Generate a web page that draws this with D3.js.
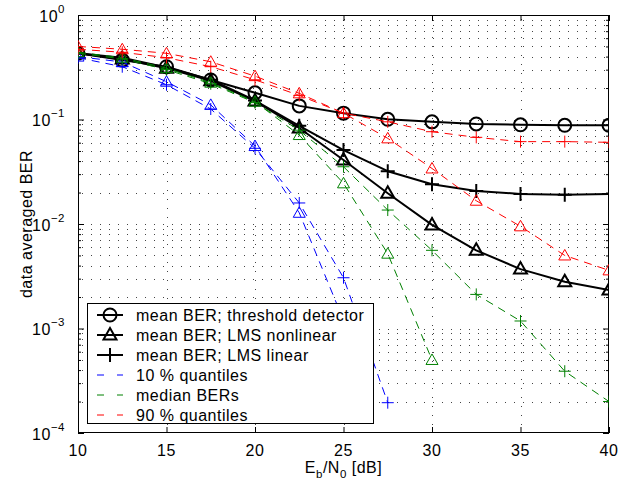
<!DOCTYPE html>
<html><head><meta charset="utf-8">
<script src="https://cdn.jsdelivr.net/npm/d3@7"></script>
<style>
body{margin:0;background:#fff}
svg{display:block;font-family:"Liberation Sans",Arial,Helvetica,sans-serif}
</style>
</head><body>
<svg id="chart" width="639" height="482"></svg>
<script>
// ---------------- data ----------------
const ebno = [10, 12.5, 15, 17.5, 20, 22.5, 25, 27.5, 30, 32.5, 35, 37.5, 40];
const meanThreshold    = [0.43, 0.37, 0.32, 0.239, 0.18, 0.135, 0.115, 0.1005, 0.095, 0.0906, 0.089, 0.088, 0.088];
const meanLmsNonlinear = [0.43, 0.38, 0.31, 0.235, 0.15, 0.083, 0.041, 0.0197, 0.0098, 0.0056, 0.0037, 0.0028, 0.00233];
const meanLmsLinear    = [0.43, 0.39, 0.315, 0.24, 0.152, 0.087, 0.051, 0.032, 0.024, 0.0207, 0.0194, 0.019, 0.0194];
const q10Nonlinear     = [0.40, 0.355, 0.23, 0.138, 0.0557, 0.0128, 0.0012, null, null, null, null, null, null];
const q10Linear        = [0.39, 0.32, 0.215, 0.126, 0.053, 0.0159, 0.00306, 0.000195, null, null, null, null, null];
const medNonlinear     = [0.44, 0.39, 0.31, 0.225, 0.148, 0.071, 0.0245, 0.0052, 0.0005, null, null, null, null];
const medLinear        = [0.43, 0.38, 0.30, 0.22, 0.145, 0.079, 0.0353, 0.0136, 0.0056, 0.00212, 0.00118, 0.00039, 0.0002];
const q90Nonlinear     = [0.50, 0.47, 0.43, 0.357, 0.26, 0.178, 0.115, 0.066, 0.034, 0.0167, 0.0095, 0.0050, 0.0036];
const q90Linear        = [0.47, 0.44, 0.39, 0.32, 0.24, 0.17, 0.115, 0.095, 0.0764, 0.0675, 0.0614, 0.0614, 0.0605];

const xTickValues = [10, 15, 20, 25, 30, 35, 40];
const yDecadeExps = [0, -1, -2, -3, -4];
const legendLabels = ["mean BER; threshold detector", "mean BER; LMS nonlinear", "mean BER; LMS linear",
                      "10 % quantiles", "median BERs", "90 % quantiles"];

// ---------------- layout ----------------
const L = 78, R = 609, T = 15, B = 433;
const svg = d3.select("#chart");
const x = d3.scaleLinear().domain([10, 40]).range([L, R]);
const y = d3.scaleLog().domain([1e-4, 1]).range([B, T]);

const FS = 16, LS = 0.5;
const BLUE = "#0000ff", GREEN = "#008000", RED = "#ff0000";

svg.append("defs").append("clipPath").attr("id", "clip")
  .append("rect").attr("x", L).attr("y", T).attr("width", R - L).attr("height", B - T);

const yMinor = [];
for (let e = -4; e < 0; e++) for (let m = 2; m <= 9; m++) yMinor.push(m * Math.pow(10, e));
const yMajor = yDecadeExps.map(e => Math.pow(10, e));

// ---------------- grid ----------------
const grid = svg.append("g").attr("stroke", "#444").attr("stroke-width", 1).attr("stroke-dasharray", "1,8");
grid.selectAll("line.h").data(yMajor.concat(yMinor).filter(v => v > 1e-4 && v < 1)).enter().append("line")
  .attr("x1", L + 4).attr("x2", R).attr("y1", d => Math.round(y(d)) + 0.5).attr("y2", d => Math.round(y(d)) + 0.5);
grid.selectAll("line.v").data(xTickValues.filter(v => v > 10 && v < 40)).enter().append("line")
  .attr("y1", T + 4).attr("y2", B).attr("x1", d => Math.round(x(d)) + 0.5).attr("x2", d => Math.round(x(d)) + 0.5);

// ---------------- axes (ticks inward) ----------------
const axG = svg.append("g");
function noDomain(g) { g.select(".domain").remove(); g.selectAll("text").remove(); }
axG.append("g").attr("transform", `translate(0,${B})`)
  .call(d3.axisBottom(x).tickValues(xTickValues).tickSize(-6).tickFormat("")).call(noDomain);
axG.append("g").attr("transform", `translate(0,${T})`)
  .call(d3.axisTop(x).tickValues(xTickValues).tickSize(-6).tickFormat("")).call(noDomain);
axG.append("g").attr("transform", `translate(${L},0)`)
  .call(d3.axisLeft(y).tickValues(yMajor).tickSize(-6).tickFormat("")).call(noDomain);
axG.append("g").attr("transform", `translate(${R},0)`)
  .call(d3.axisRight(y).tickValues(yMajor).tickSize(-6).tickFormat("")).call(noDomain);
axG.append("g").attr("transform", `translate(${L},0)`)
  .call(d3.axisLeft(y).tickValues(yMinor).tickSize(-3).tickFormat("")).call(noDomain);
axG.append("g").attr("transform", `translate(${R},0)`)
  .call(d3.axisRight(y).tickValues(yMinor).tickSize(-3).tickFormat("")).call(noDomain);
axG.selectAll("line").attr("stroke", "#000");

svg.append("rect").attr("x", L + 0.5).attr("y", T + 0.5).attr("width", R - L - 1).attr("height", B - T - 1)
  .attr("fill", "none").attr("stroke", "#000").attr("stroke-width", 1);

// tick labels
svg.append("g").selectAll("text").data(xTickValues).enter().append("text")
  .attr("x", d => x(d)).attr("y", B + 23).attr("text-anchor", "middle")
  .attr("font-size", FS).attr("letter-spacing", LS).text(d => d);

const yl = svg.append("g").selectAll("text").data(yDecadeExps).enter().append("text")
  .attr("x", 65).attr("y", d => y(Math.pow(10, d)) + 6.5).attr("text-anchor", "end")
  .attr("font-size", FS).attr("letter-spacing", LS);
yl.append("tspan").text("10");
yl.append("tspan").attr("font-size", 11.5).attr("dy", -9).text(d => d === 0 ? "0" : "\u2212" + Math.abs(d));

// axis titles
const xt = svg.append("text").attr("x", x(25)).attr("y", 473).attr("text-anchor", "middle")
  .attr("font-size", FS).attr("letter-spacing", LS);
xt.append("tspan").text("E");
xt.append("tspan").attr("font-size", 11.5).attr("dy", 5).text("b");
xt.append("tspan").attr("dy", -5).text("/N");
xt.append("tspan").attr("font-size", 11.5).attr("dy", 5).text("0");
xt.append("tspan").attr("dy", -5).text(" [dB]");

svg.append("text").attr("transform", `translate(32,${(T + B) / 2}) rotate(-90)`)
  .attr("text-anchor", "middle").attr("font-size", FS).attr("letter-spacing", LS).text("data averaged BER");

// ---------------- series ----------------
const series = [
  { vals: meanThreshold,    color: "#000", w: 2, dash: null, marker: "circle",   big: true },
  { vals: meanLmsNonlinear, color: "#000", w: 2, dash: null, marker: "triangle", big: true },
  { vals: meanLmsLinear,    color: "#000", w: 2, dash: null, marker: "plus",     big: true },
  { vals: q10Nonlinear, color: BLUE,  w: 1, dash: "8,6", marker: "triangle", big: false },
  { vals: q10Linear,    color: BLUE,  w: 1, dash: "8,6", marker: "plus",     big: false },
  { vals: medNonlinear, color: GREEN, w: 1, dash: "8,6", marker: "triangle", big: false },
  { vals: medLinear,    color: GREEN, w: 1, dash: "8,6", marker: "plus",     big: false },
  { vals: q90Nonlinear, color: RED,   w: 1, dash: "8,6", marker: "triangle", big: false },
  { vals: q90Linear,    color: RED,   w: 1, dash: "8,6", marker: "plus",     big: false }
];

function markerPath(type, big) {
  if (type === "triangle") return big ? "M0,-7L6.5,4.5L-6.5,4.5Z" : "M0,-6L6,4.5L-6,4.5Z";
  if (type === "plus") return big ? "M-7,0H7M0,-7V7" : "M-6,0H6M0,-6V6";
  return null;
}
function drawMarker(g, type, big, color, cx, cy) {
  if (type === "circle") {
    g.append("circle").attr("cx", cx).attr("cy", cy).attr("r", 6.5)
      .attr("fill", "none").attr("stroke", color).attr("stroke-width", 2);
  } else {
    g.append("path").attr("transform", `translate(${cx},${cy})`).attr("d", markerPath(type, big))
      .attr("fill", "none").attr("stroke", color).attr("stroke-width", big ? 2 : 1);
  }
}

const line = d3.line().defined(d => d.v != null && d.v > 0).x(d => x(d.x)).y(d => y(d.v));
const plot = svg.append("g").attr("clip-path", "url(#clip)");
series.forEach(s => {
  const pts = ebno.map((e, i) => ({ x: e, v: s.vals[i] }));
  plot.append("path").datum(pts).attr("d", line).attr("fill", "none")
    .attr("stroke", s.color).attr("stroke-width", s.w).attr("stroke-dasharray", s.dash)
    .attr("stroke-linejoin", "round");
  const mg = plot.append("g");
  pts.filter(d => d.v != null && d.v > 0).forEach(d => drawMarker(mg, s.marker, s.big, s.color, x(d.x), y(d.v)));
});

// ---------------- legend ----------------
const lg = svg.append("g");
lg.append("rect").attr("x", 87.5).attr("y", 303.5).attr("width", 286).attr("height", 120)
  .attr("fill", "#fff").attr("stroke", "#000").attr("stroke-width", 1);
const legendItems = [
  { color: "#000", w: 2, dash: null, marker: "circle" },
  { color: "#000", w: 2, dash: null, marker: "triangle" },
  { color: "#000", w: 2, dash: null, marker: "plus" },
  { color: BLUE,  w: 1, dash: "7,13", marker: null },
  { color: GREEN, w: 1, dash: "7,13", marker: null },
  { color: RED,   w: 1, dash: "7,13", marker: null }
];
legendItems.forEach((it, i) => {
  const cy = 315 + i * 20;
  lg.append("line").attr("x1", 97).attr("x2", 123).attr("y1", cy).attr("y2", cy)
    .attr("stroke", it.color).attr("stroke-width", it.w).attr("stroke-dasharray", it.dash);
  if (it.marker) drawMarker(lg, it.marker, true, it.color, 110, cy);
  lg.append("text").attr("x", 136).attr("y", cy + 6).attr("font-size", FS).attr("letter-spacing", LS)
    .text(legendLabels[i]);
});
</script>
</body></html>
